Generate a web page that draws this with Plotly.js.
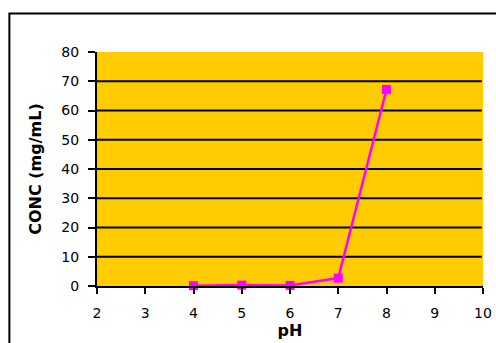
<!DOCTYPE html>
<html><head><meta charset="utf-8">
<script src="https://cdn.plot.ly/plotly-3.0.1.min.js"></script>
<style>html,body{margin:0;padding:0;background:#fff;}#chart{width:496px;height:343px;}</style>
</head><body><div id="chart"></div>
<script>
var pH = [4, 5, 6, 7, 8];
var conc = [0.1, 0.3, 0.2, 2.7, 67.2];
var xTicks = [2, 3, 4, 5, 6, 7, 8, 9, 10];
var yTicks = [0, 10, 20, 30, 40, 50, 60, 70, 80];
var gridVals = [10, 20, 30, 40, 50, 60, 70];

var trace = {
  x: pH, y: conc, type: 'scatter', mode: 'lines+markers',
  line: {color: '#FF00FF', width: 2.5},
  marker: {symbol: 'square', size: 9, color: '#FF00FF'},
  cliponaxis: false, hoverinfo: 'none'
};
var shapes = gridVals.map(function (v) {
  return {type: 'line', xref: 'paper', yref: 'y', x0: 0, x1: 0.997, y0: v, y1: v,
          line: {color: '#000', width: 2}, layer: 'below'};
});
shapes.push({
  type: 'rect', xref: 'paper', yref: 'paper',
  x0: -0.227, x1: 1.2, y0: -0.5, y1: 1.164,
  line: {color: '#000', width: 2}, fillcolor: 'rgba(0,0,0,0)', layer: 'below'
});
var layout = {
  width: 496, height: 343,
  margin: {l: 97, r: 13, t: 52, b: 57},
  paper_bgcolor: '#ffffff', plot_bgcolor: '#FFCC00',
  font: {family: 'DejaVu Sans, sans-serif', size: 14, color: '#000'},
  showlegend: false,
  xaxis: {
    range: [2, 10], tickvals: xTicks, ticktext: xTicks.map(String),
    showgrid: false, zeroline: false, showline: true, linecolor: '#000', linewidth: 2,
    ticks: 'outside', ticklen: 6, tickwidth: 2, tickcolor: '#000', ticklabelstandoff: 7,
    title: {text: '<b>pH</b>', font: {size: 16}, standoff: 2}
  },
  yaxis: {
    range: [0, 80], tickvals: yTicks, ticktext: yTicks.map(String),
    showgrid: false, zeroline: false,
    showline: true, linecolor: '#000', linewidth: 2,
    ticks: 'outside', ticklen: 7, tickwidth: 2, tickcolor: '#000', ticklabelstandoff: 6,
    title: {text: '<b>CONC (mg/mL)</b>', font: {size: 16}, standoff: 16}
  },
  shapes: shapes
};
Plotly.newPlot('chart', [trace], layout, {staticPlot: true, displayModeBar: false});
</script></body></html>
